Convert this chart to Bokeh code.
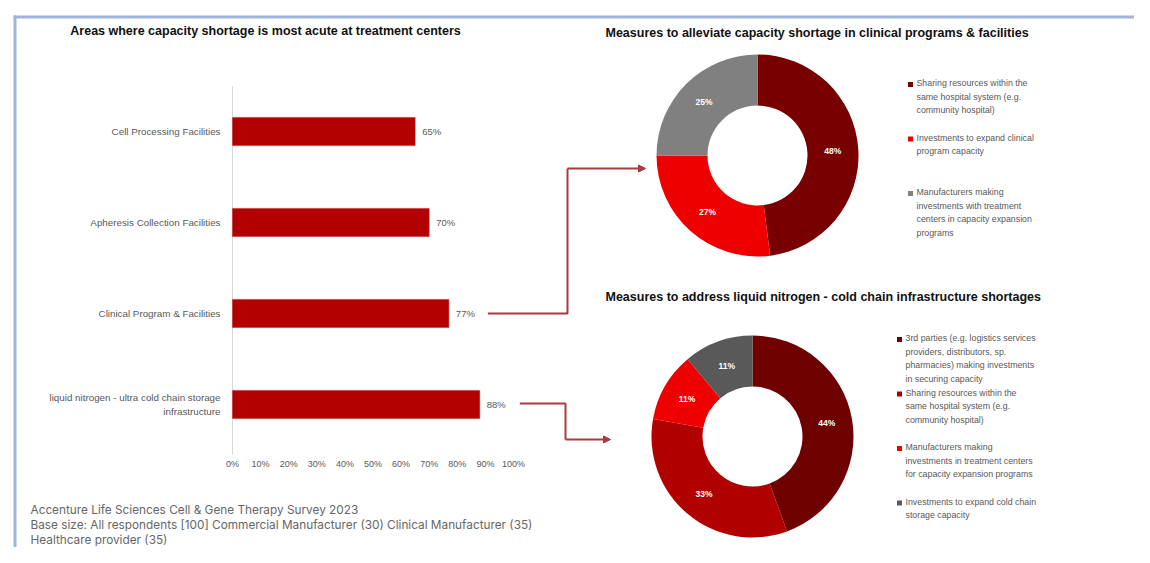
import math
from bokeh.plotting import figure
from bokeh.models import Range1d, Arrow, NormalHead
from bokeh.core.properties import value
from bokeh.embed import file_html
from bokeh.resources import INLINE

# ---------------- data ----------------
bar_title = "Areas where capacity shortage is most acute at treatment centers"
bar_categories = [
    "Cell Processing Facilities",
    "Apheresis Collection Facilities",
    "Clinical Program & Facilities",
    "liquid nitrogen - ultra cold chain storage\ninfrastructure",
]
bar_values = [65, 70, 77, 88]
x_tick_values = [0, 10, 20, 30, 40, 50, 60, 70, 80, 90, 100]
x_tick_labels = ["0%", "10%", "20%", "30%", "40%", "50%", "60%", "70%", "80%", "90%", "100%"]

donut1_title = "Measures to alleviate capacity shortage in clinical programs & facilities"
donut1_labels = [
    "Sharing resources within the\nsame hospital system (e.g.\ncommunity hospital)",
    "Investments to expand clinical\nprogram capacity",
    "Manufacturers making\ninvestments with treatment\ncenters in capacity expansion\nprograms",
]
donut1_values = [48, 27, 25]
donut1_colors = ["#780000", "#ee0000", "#808080"]

donut2_title = "Measures to address liquid nitrogen - cold chain infrastructure shortages"
donut2_labels = [
    "3rd parties (e.g. logistics services\nproviders, distributors, sp.\npharmacies) making investments\nin securing capacity",
    "Sharing resources within the\nsame hospital system (e.g.\ncommunity hospital)",
    "Manufacturers making\ninvestments in treatment centers\nfor capacity expansion programs",
    "Investments to expand cold chain\nstorage capacity",
]
donut2_values = [44, 33, 11, 11]
donut2_colors = ["#6e0000", "#b00000", "#ee0000", "#595959"]

footnote_lines = [
    "Accenture Life Sciences Cell & Gene Therapy Survey 2023",
    "Base size: All respondents [100] Commercial Manufacturer (30) Clinical Manufacturer (35)",
    "Healthcare provider (35)",
]

# ---------------- layout helpers (page pixels -> data units) ----------------
W, H = 1134, 547
PX_PER_PCT = 2.81      # horizontal: percent of bar axis
PX_PER_ROW = 91.0      # vertical: one bar row
X_ZERO_PAGE = 232.0    # page x of 0 %
Y_ZERO_PAGE = 404.0    # page y of the bottom bar row


def X(px):
    return (px - X_ZERO_PAGE) / PX_PER_PCT


def Y(py):
    return (Y_ZERO_PAGE - py) / PX_PER_ROW


p = figure(width=W, height=H, output_backend="svg", toolbar_location=None,
           x_range=Range1d(X(0), X(W)), y_range=Range1d(Y(H), Y(0)),
           min_border=0)
p.axis.visible = False
p.grid.visible = False
p.outline_line_color = None
p.background_fill_color = "white"
p.border_fill_color = "white"

FONT = value("Liberation Sans")
TXT = "#595959"

# frame lines (blue border)
p.segment(x0=[X(14.5)], y0=[Y(15)], x1=[X(14.5)], y1=[Y(H)], line_color="#9fb6e0", line_width=3)
p.segment(x0=[X(13)], y0=[Y(16.5)], x1=[X(W)], y1=[Y(16.5)], line_color="#9fb6e0", line_width=3)

# ---------------- bar chart ----------------
n = len(bar_categories)
rows = list(range(n))[::-1]

p.text(x=[X(265)], y=[Y(30)], text=[bar_title], text_font=FONT, text_font_style="bold",
       text_font_size="12.5px", text_color="#111111", text_align="center", text_baseline="middle")

p.segment(x0=[0], y0=[-0.55], x1=[0], y1=[n - 0.5], line_color="#d9d9d9", line_width=1)

p.hbar(y=rows, left=0, right=bar_values, height=0.31, fill_color="#b30000", line_color="#c02020",
       line_width=0.5)

p.text(x=bar_values, y=rows, text=[f"{v}%" for v in bar_values], x_offset=7,
       text_font=FONT, text_font_size="9.5px", text_color=TXT, text_align="left", text_baseline="middle")

p.text(x=[0] * n, y=rows, text=bar_categories, x_offset=-12, text_font=FONT, text_font_size="9.8px",
       text_color=TXT, text_align="right", text_baseline="middle", text_line_height=1.3)

p.text(x=x_tick_values, y=[-0.65] * len(x_tick_values), text=x_tick_labels, text_font=FONT,
       text_font_size="9px", text_color=TXT, text_align="center", text_baseline="middle")

for i, line in enumerate(footnote_lines):
    p.text(x=[X(30)], y=[Y(509 + 15 * i)], text=[line], text_font=value("Inter"),
           text_font_size="11.8px", text_color="#666666", text_align="left", text_baseline="middle")

# ---------------- donuts ----------------
R_IN, R_OUT = 50, 101


def donut(cx_page, cy_page, vals, cols, labels, title, title_y, leg_x, leg_y0, leg_step):
    cx, cy = X(cx_page), Y(cy_page)
    total = float(sum(vals))
    starts, ends, mids = [], [], []
    acc = 0.0
    for v in vals:
        a0 = math.pi / 2 - 2 * math.pi * (acc + v) / total
        a1 = math.pi / 2 - 2 * math.pi * acc / total
        starts.append(a0)
        ends.append(a1)
        mids.append((a0 + a1) / 2)
        acc += v
    p.annular_wedge(x=[cx] * len(vals), y=[cy] * len(vals), inner_radius=R_IN, outer_radius=R_OUT,
                    inner_radius_units="screen", outer_radius_units="screen",
                    start_angle=starts, end_angle=ends, direction="anticlock",
                    fill_color=cols, line_color=None)
    rm = (R_IN + R_OUT) / 2
    lx = [cx + rm * math.cos(a) / PX_PER_PCT for a in mids]
    ly = [cy + rm * math.sin(a) / PX_PER_ROW for a in mids]
    p.text(x=lx, y=ly, text=[f"{v}%" for v in vals], text_font=FONT, text_font_style="bold",
           text_font_size="8.5px", text_color="white", text_align="center", text_baseline="middle")
    p.text(x=[X(605)], y=[Y(title_y)], text=[title], text_font=FONT, text_font_style="bold",
           text_font_size="12.5px", text_color="#111111", text_align="left", text_baseline="middle")
    ys = [leg_y0 + leg_step * i for i in range(len(vals))]
    p.scatter(x=[X(leg_x)] * len(vals), y=[Y(v) for v in ys], marker="square", size=5,
              fill_color=cols, line_color=None)
    p.text(x=[X(leg_x + 6)] * len(vals), y=[Y(v - 6.5) for v in ys], text=labels, text_font=FONT,
           text_font_size="8.8px", text_color=TXT, text_align="left", text_baseline="top",
           text_line_height=1.36)


donut(757, 155, donut1_values, donut1_colors, donut1_labels, donut1_title, 32, 910, 84, 54.5)
donut(752, 436, donut2_values, donut2_colors, donut2_labels, donut2_title, 296, 899, 339, 54.5)

# ---------------- connector arrows ----------------
ARROW_COL = "#a83a44"
# from "Clinical Program & Facilities" bar to donut 1
r_c, v_c = rows[2], bar_values[2]
p.line(x=[v_c + 39 / PX_PER_PCT, X(567), X(567)], y=[r_c, r_c, Y(168)], line_color=ARROW_COL, line_width=2)
p.add_layout(Arrow(end=NormalHead(size=7, fill_color=ARROW_COL, line_color=ARROW_COL),
                   x_start=X(567), y_start=Y(168), x_end=X(645), y_end=Y(168),
                   line_color=ARROW_COL, line_width=2))
# from "liquid nitrogen" bar to donut 2
r_l, v_l = rows[3], bar_values[3]
p.line(x=[v_l + 40 / PX_PER_PCT, X(565), X(565)], y=[r_l + 1 / PX_PER_ROW] * 2 + [Y(439)],
       line_color=ARROW_COL, line_width=2)
p.add_layout(Arrow(end=NormalHead(size=7, fill_color=ARROW_COL, line_color=ARROW_COL),
                   x_start=X(565), y_start=Y(439), x_end=X(610), y_end=Y(439),
                   line_color=ARROW_COL, line_width=2))

open("out.html", "w").write(file_html(p, INLINE))
